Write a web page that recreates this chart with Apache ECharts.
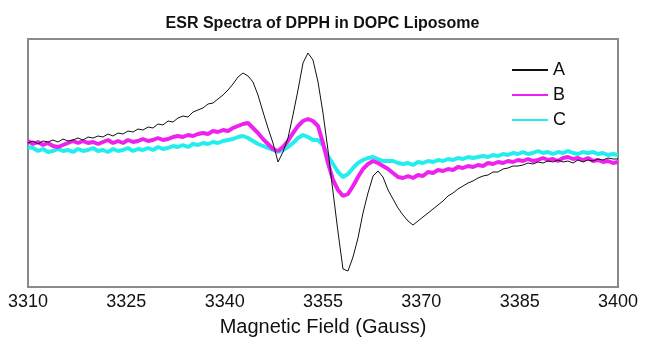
<!DOCTYPE html>
<html><head><meta charset="utf-8">
<script src="https://cdn.jsdelivr.net/npm/echarts@6/dist/echarts.min.js"></script>
<style>html,body{margin:0;padding:0;background:#fff}#c{width:645px;height:342px}</style>
</head><body><div id="c"></div>
<script>
const title = "ESR Spectra of DPPH in DOPC Liposome";
const xName = "Magnetic Field (Gauss)";
const xTicks = [3310, 3325, 3340, 3355, 3370, 3385, 3400];
const seriesNames = ["A", "B", "C"];

// magnetic field (Gauss) sample positions
const field = [3310.00,3310.76,3311.53,3312.29,3313.05,3313.81,3314.58,3315.34,3316.10,3316.86,
3317.63,3318.39,3319.15,3319.92,3320.68,3321.44,3322.20,3322.97,3323.73,3324.49,
3325.25,3326.02,3326.78,3327.54,3328.31,3329.07,3329.83,3330.59,3331.36,3332.12,
3332.88,3333.64,3334.41,3335.17,3335.93,3336.69,3337.46,3338.22,3338.98,3339.75,
3340.51,3341.27,3342.03,3342.80,3343.56,3344.32,3345.08,3345.85,3346.61,3347.37,
3348.14,3348.90,3349.66,3350.42,3351.19,3351.95,3352.71,3353.47,3354.24,3355.00,
3355.76,3356.53,3357.29,3358.05,3358.81,3359.58,3360.34,3361.10,3361.86,3362.63,
3363.39,3364.15,3364.92,3365.68,3366.44,3367.20,3367.97,3368.73,3369.49,3370.25,
3371.02,3371.78,3372.54,3373.31,3374.07,3374.83,3375.59,3376.36,3377.12,3377.88,
3378.64,3379.41,3380.17,3380.93,3381.69,3382.46,3383.22,3383.98,3384.75,3385.51,
3386.27,3387.03,3387.80,3388.56,3389.32,3390.08,3390.85,3391.61,3392.37,3393.14,
3393.90,3394.66,3395.42,3396.19,3396.95,3397.71,3398.47,3399.24,3400.00];

// signal (arbitrary units) for each sample
const signalA = [2,4,1,4,3,5,3,6,4,5,
7,5,8,7,9,8,11,9,12,11,
14,13,16,15,18,17,21,20,24,23,
27,29,28,33,35,37,41,42,46,50,
55,61,68,72,69,63,50,33,17,2,
-17,-7,7,30,55,82,92,85,63,32,
-5,-47,-87,-124,-126,-112,-93,-68,-48,-31,
-26,-32,-45,-54,-63,-70,-76,-80,-76,-72,
-68,-64,-60,-56,-51,-48,-44,-41,-38,-36,
-33,-31,-30,-27,-27,-24,-23,-21,-21,-20,
-18,-19,-17,-18,-16,-17,-15,-17,-16,-18,
-15,-17,-15,-16,-14,-15,-13,-14,-14];

const signalB = [4,1,3,0,2,-1,-2,0,2,4,
2,4,2,3,1,3,5,2,4,2,
5,3,4,6,4,5,7,5,6,8,
9,8,10,9,11,12,11,14,13,15,
14,17,19,21,22,17,12,6,1,-4,
-6,-2,4,12,19,24,26,24,19,2,
-18,-35,-45,-51,-49,-41,-32,-24,-19,-16,
-18,-21,-24,-28,-32,-33,-31,-33,-30,-31,
-27,-28,-25,-26,-24,-25,-22,-23,-21,-22,
-20,-21,-18,-19,-17,-18,-16,-17,-15,-16,
-14,-16,-15,-13,-15,-14,-16,-13,-12,-14,
-13,-15,-13,-16,-15,-17,-16,-18,-17];

const signalC = [-2,-3,-6,-4,-7,-6,-4,-6,-5,-7,
-4,-6,-5,-3,-6,-5,-7,-4,-6,-5,
-3,-6,-4,-5,-3,-5,-2,-4,-3,-1,
-2,0,-2,1,0,2,1,3,2,4,
5,6,8,9,7,4,1,-1,-3,-5,
-7,-5,-2,2,7,10,8,5,5,0,
-11,-19,-27,-32,-29,-23,-18,-15,-13,-12,
-14,-16,-16,-16,-18,-19,-18,-20,-17,-18,
-16,-17,-15,-16,-14,-15,-13,-14,-12,-13,
-12,-11,-12,-10,-11,-9,-10,-8,-9,-7,
-9,-8,-6,-8,-7,-9,-7,-8,-6,-8,
-9,-7,-8,-7,-9,-8,-10,-9,-10];

const toPairs = ys => field.map((x, i) => [x, ys[i]]);
const FONT = 'Liberation Sans, Arial, sans-serif';

const chart = echarts.init(document.getElementById('c'), null, {renderer: 'canvas'});
chart.setOption({
  animation: false,
  title: {text: title, left: 'center', top: 11,
    textStyle: {fontFamily: FONT, fontWeight: 'bold', fontSize: 16, color: '#111'}},
  legend: {
    orient: 'vertical', left: 506, top: 56, itemWidth: 36, itemHeight: 18, itemGap: 7,
    data: seriesNames,
    itemStyle: {opacity: 0},
    textStyle: {fontFamily: FONT, fontSize: 18, lineHeight: 18, color: '#111'}
  },
  grid: {left: 28, right: 27, top: 39, bottom: 55, show: true, borderColor: '#8a8a8a', borderWidth: 2, backgroundColor: 'transparent'},
  xAxis: {
    type: 'value', min: 3310, max: 3400, interval: 15,
    name: xName, nameLocation: 'middle', nameGap: 30,
    nameTextStyle: {fontFamily: FONT, fontSize: 20, color: '#111'},
    axisLine: {show: false}, axisTick: {show: false}, splitLine: {show: false},
    axisLabel: {fontFamily: FONT, fontSize: 18, color: '#111', margin: 6,
      formatter: v => xTicks.includes(v) ? String(v) : ''}
  },
  yAxis: {type: 'value', min: -142, max: 106, show: false, splitLine: {show: false}},
  series: [
    {name: 'C', type: 'line', data: toPairs(signalC), symbol: 'none', z: 2,
      lineStyle: {color: '#22eeee', width: 4}, itemStyle: {color: '#22eeee'}},
    {name: 'B', type: 'line', data: toPairs(signalB), symbol: 'none', z: 3,
      lineStyle: {color: '#ee22ee', width: 4}, itemStyle: {color: '#ee22ee'}},
    {name: 'A', type: 'line', data: toPairs(signalA), symbol: 'none', z: 4,
      lineStyle: {color: '#111', width: 1}, itemStyle: {color: '#111'}}
  ]
});
</script></body></html>
